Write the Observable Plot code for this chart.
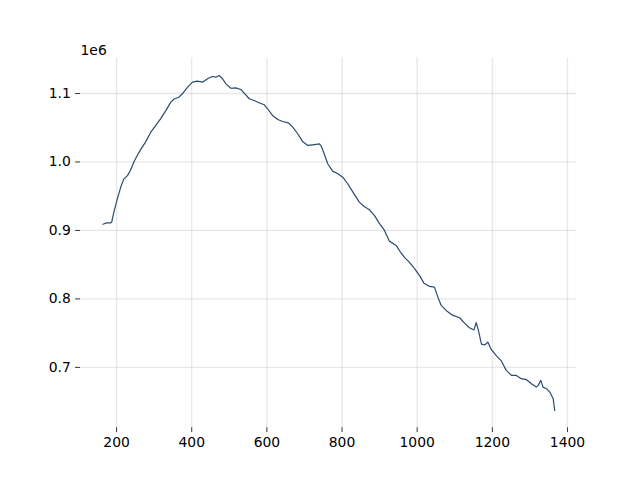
<!DOCTYPE html>
<html>
<head>
<meta charset="utf-8">
<script src="https://cdn.jsdelivr.net/npm/d3@7"></script>
<script src="https://cdn.jsdelivr.net/npm/@observablehq/plot@0.6"></script>
<style>
  html, body { margin: 0; padding: 0; background: #fff; }
  #chart svg { font-family: "DejaVu Sans", sans-serif; }
</style>
</head>
<body>
<div id="chart"></div>
<script>
// x positions
const xs = [164,173,184,187,193,202,211,219,229,237,246,255,264,277,291,304,317,331,344,353,366,375,389,402,415,429,442,455,464,473,482,491,504,517,531,539,553,566,579,593,602,615,629,642,657,669,682,695,709,722,740,745,751,762,775,789,802,815,829,846,859,873,886,899,913,926,944,957,968,979,993,1006,1018,1033,1046,1055,1064,1077,1095,1113,1126,1139,1151,1157,1163,1171,1180,1188,1197,1211,1224,1237,1251,1264,1277,1291,1304,1317,1322,1329,1335,1344,1353,1362,1366];
// values, in units of 1e6
const ys = [0.909,0.911,0.911,0.912,0.927,0.946,0.963,0.975,0.980,0.988,1.000,1.0095,1.018,1.029,1.0435,1.053,1.063,1.075,1.087,1.092,1.0946,1.0996,1.1092,1.1165,1.118,1.1165,1.1215,1.1248,1.1238,1.1263,1.1215,1.114,1.1077,1.1083,1.1058,1.101,1.0923,1.0898,1.0864,1.0835,1.0777,1.0679,1.062,1.0591,1.0572,1.0508,1.0412,1.030,1.0241,1.0251,1.0263,1.0226,1.0143,0.9974,0.9866,0.9828,0.9778,0.9682,0.9559,0.9413,0.935,0.9302,0.9219,0.9106,0.900,0.8844,0.8781,0.8671,0.8595,0.8537,0.8441,0.8343,0.823,0.8182,0.8172,0.8026,0.7905,0.7832,0.7759,0.7725,0.7646,0.7579,0.7547,0.7654,0.754,0.734,0.7328,0.7369,0.7262,0.7167,0.7094,0.6956,0.6883,0.6883,0.6835,0.682,0.6762,0.6712,0.6737,0.681,0.6712,0.6689,0.6639,0.6543,0.637];
const xTicks = [200,400,600,800,1000,1200,1400];
const yTicks = [0.7,0.8,0.9,1.0,1.1];
const offsetLabel = "1e6";

const data = xs.map((x, i) => ({x, y: ys[i]}));
const fs = 13.9, tk = 4.86;

const chart = Plot.plot({
  width: 640,
  height: 480,
  marginLeft: 80,
  marginRight: 64,
  marginTop: 57.6,
  marginBottom: 52.8,
  style: {background: "#fff", fontFamily: "DejaVu Sans", fontSize: fs + "px", color: "#000", overflow: "visible"},
  x: {domain: [104, 1424]},
  y: {domain: [0.6119, 1.1517]},
  marks: [
    Plot.gridX(xTicks, {stroke: "#b0b0b0", strokeOpacity: 0.3, strokeWidth: 1.3}),
    Plot.gridY(yTicks, {stroke: "#b0b0b0", strokeOpacity: 0.3, strokeWidth: 1.3}),
    Plot.axisX({ticks: xTicks, tickSize: tk, tickPadding: tk, fontSize: fs, label: null, tickFormat: d3.format("d"), stroke: "#000", strokeWidth: 0.8, color: "#000"}),
    Plot.axisY({ticks: yTicks, tickSize: tk, tickPadding: tk, fontSize: fs, label: null, tickFormat: d3.format(".1f"), stroke: "#000", strokeWidth: 0.8, color: "#000"}),
    Plot.line(data, {x: "x", y: "y", stroke: "#2a4b70", strokeWidth: 1.2}),
    Plot.text([offsetLabel], {frameAnchor: "top-left", text: d => d, textAnchor: "start", lineAnchor: "bottom", dy: -3, fontSize: fs, fill: "#000"})
  ]
});
document.getElementById("chart").appendChild(chart);
</script>
</body>
</html>
